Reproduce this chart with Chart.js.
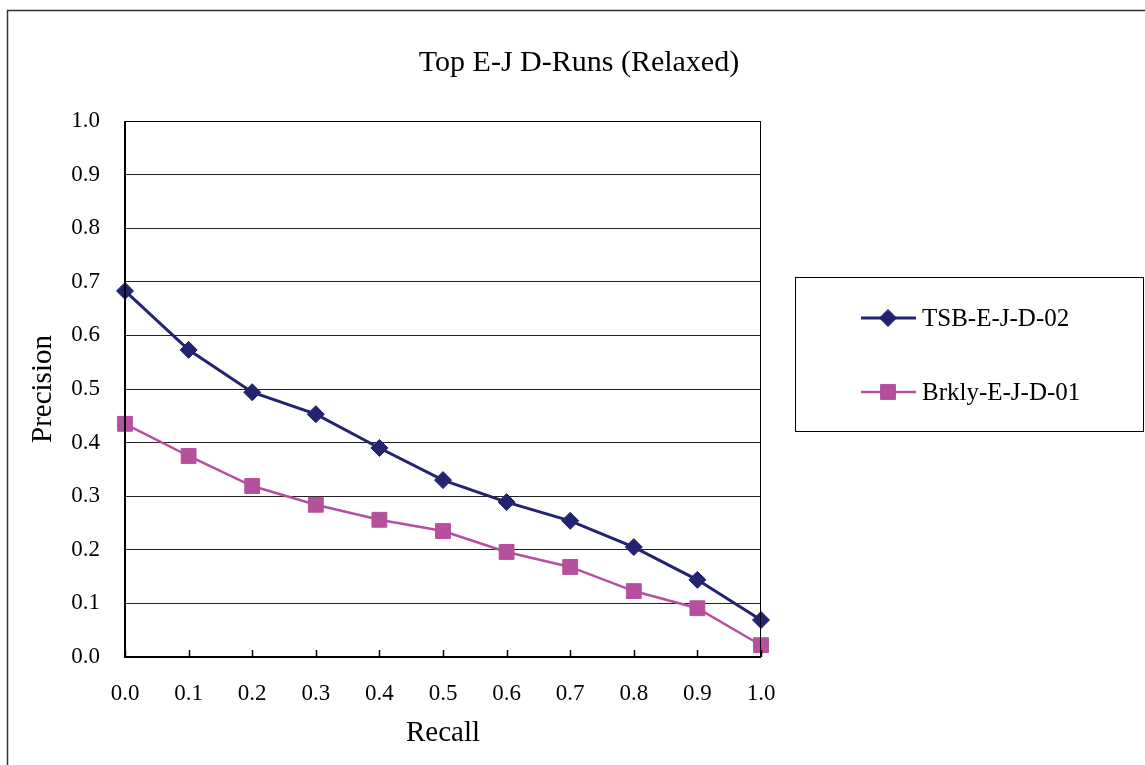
<!DOCTYPE html>
<html>
<head>
<meta charset="utf-8">
<title>Top E-J D-Runs (Relaxed)</title>
<script src="https://cdn.jsdelivr.net/npm/chart.js@4/dist/chart.umd.min.js"></script>
<style>
    html, body { margin: 0; padding: 0; background: #fff; }
    #wrap { position: relative; width: 1145px; height: 765px; }
</style>
</head>
<body>
<div id="wrap"><canvas id="myChart"></canvas></div>
<script>
// recall levels (x axis)
const recallLevels = [0.0, 0.1, 0.2, 0.3, 0.4, 0.5, 0.6, 0.7, 0.8, 0.9, 1.0];

// precision values
const tsbPrecision   = [0.683, 0.573, 0.494, 0.453, 0.390, 0.330, 0.289, 0.254, 0.205, 0.144, 0.069];
const brklyPrecision = [0.435, 0.375, 0.319, 0.284, 0.256, 0.235, 0.196, 0.168, 0.123, 0.091, 0.022];

const seriesNames = ['TSB-E-J-D-02', 'Brkly-E-J-D-01'];
const chartTitle = 'Top E-J D-Runs (Relaxed)';
const xTitle = 'Recall';
const yTitle = 'Precision';

const serif = "'Liberation Serif', 'Times New Roman', serif";
const navy = '#23236f';
const pink = '#b5509f';

function toPoints(values) {
    return values.map((v, i) => ({ x: recallLevels[i], y: v }));
}

// white page, outer frame, title, plot frame and inside tick marks on the x axis
const framePlugin = {
    id: 'framePlugin',
    beforeDraw(chart) {
        const ctx = chart.ctx;
        ctx.save();
        ctx.fillStyle = '#fff';
        ctx.fillRect(0, 0, chart.width, chart.height);
        ctx.strokeStyle = '#333';
        ctx.lineWidth = 1.5;
        ctx.strokeRect(7.5, 10.5, chart.width + 20, chart.height + 20);
        // title is centred on the whole chart, not on the plot
        ctx.fillStyle = '#000';
        ctx.font = '30px ' + serif;
        ctx.textAlign = 'center';
        ctx.textBaseline = 'middle';
        ctx.fillText(chartTitle, 579, 63);
        ctx.restore();
    },
    afterDatasetsDraw(chart) {
        const ctx = chart.ctx;
        const a = chart.chartArea;
        const xs = chart.scales.x;
        ctx.save();
        ctx.strokeStyle = '#000';
        ctx.lineWidth = 1;
        ctx.strokeRect(a.left, a.top + 0.5, a.right - a.left - 0.5, a.bottom - a.top);
        ctx.lineWidth = 1.5;
        xs.ticks.forEach(t => {
            const px = Math.round(xs.getPixelForValue(t.value)) + 0.5;
            ctx.beginPath();
            ctx.moveTo(px, a.bottom);
            ctx.lineTo(px, a.bottom - 7);
            ctx.stroke();
        });
        ctx.lineWidth = 2;
        ctx.beginPath();
        ctx.moveTo(a.left, a.top);
        ctx.lineTo(a.left, a.bottom);
        ctx.lineTo(a.right, a.bottom);
        ctx.stroke();
        ctx.restore();
    }
};

// boxed legend on the right, like the spreadsheet one
const boxLegend = {
    id: 'boxLegend',
    afterDraw(chart) {
        const ctx = chart.ctx;
        ctx.save();
        ctx.strokeStyle = '#000';
        ctx.lineWidth = 1;
        ctx.strokeRect(795.5, 277.5, 348, 154);
        const rows = [318, 392];
        chart.data.datasets.forEach((ds, i) => {
            const y = rows[i];
            ctx.strokeStyle = ds.borderColor;
            ctx.lineWidth = ds.borderWidth;
            ctx.beginPath();
            ctx.moveTo(861, y);
            ctx.lineTo(916, y);
            ctx.stroke();
            ctx.fillStyle = ds.backgroundColor;
            ctx.strokeStyle = ds.backgroundColor;
            ctx.lineWidth = 1;
            Chart.helpers.drawPoint(ctx, {
                pointStyle: ds.pointStyle,
                radius: ds.pointRadius,
                rotation: 0,
                borderWidth: 1
            }, 888, y);
            ctx.fillStyle = '#000';
            ctx.font = '25px ' + serif;
            ctx.textBaseline = 'middle';
            ctx.textAlign = 'left';
            ctx.fillText(ds.label, 922, y + 1);
        });
        ctx.restore();
    }
};

const ctx = document.getElementById('myChart').getContext('2d');

new Chart(ctx, {
    type: 'line',
    data: {
        datasets: [
            {
                label: seriesNames[0],
                data: toPoints(tsbPrecision),
                borderColor: navy,
                backgroundColor: navy,
                borderWidth: 3,
                pointStyle: 'rectRot',
                pointRadius: 8.5,
                pointBorderWidth: 1,
                tension: 0,
                clip: false
            },
            {
                label: seriesNames[1],
                data: toPoints(brklyPrecision),
                borderColor: pink,
                backgroundColor: pink,
                borderWidth: 2.5,
                pointStyle: 'rect',
                pointRadius: 10.5,
                pointBorderWidth: 1,
                tension: 0,
                clip: false
            }
        ]
    },
    options: {
        responsive: true,
        maintainAspectRatio: false,
        animation: false,
        layout: { padding: { left: 0, top: 121, right: 384, bottom: 0 } },
        plugins: {
            legend: { display: false },
            tooltip: { enabled: false },
            title: { display: false }
        },
        scales: {
            x: {
                type: 'linear',
                min: 0,
                max: 1,
                afterFit(scale) { scale.height = 108; },
                ticks: {
                    stepSize: 0.1,
                    color: '#000',
                    padding: 23,
                    font: { family: serif, size: 23 },
                    callback: v => v.toFixed(1)
                },
                grid: { display: false, drawTicks: false },
                border: { display: false },
                title: {
                    display: true,
                    text: xTitle,
                    color: '#000',
                    font: { family: serif, size: 29 },
                    padding: { top: 0, bottom: 14 }
                }
            },
            y: {
                min: 0,
                max: 1,
                afterFit(scale) { scale.width = 125; },
                ticks: {
                    stepSize: 0.1,
                    color: '#000',
                    padding: 25,
                    font: { family: serif, size: 23 },
                    callback: v => v.toFixed(1)
                },
                grid: { color: '#222', lineWidth: 1, drawTicks: false },
                border: { display: false },
                title: {
                    display: true,
                    text: yTitle,
                    color: '#000',
                    font: { family: serif, size: 29 },
                    padding: { top: 26, bottom: 0 }
                }
            }
        }
    },
    plugins: [framePlugin, boxLegend]
});
</script>
</body>
</html>
